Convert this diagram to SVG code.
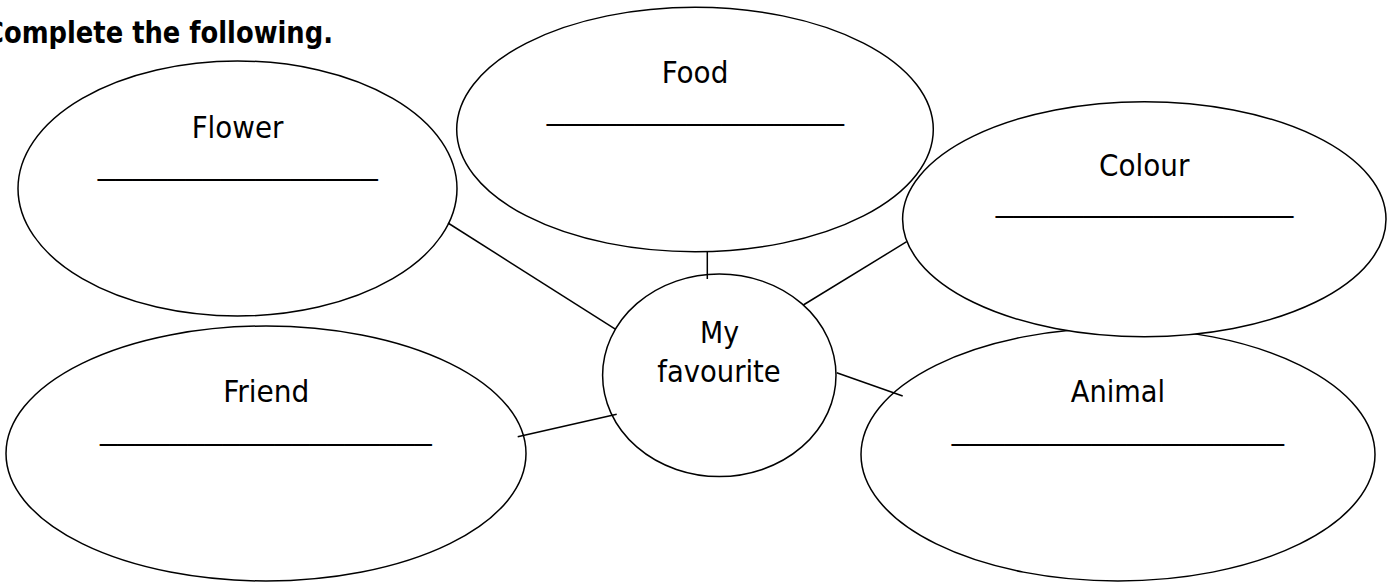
<svg xmlns="http://www.w3.org/2000/svg" width="1395" height="583" viewBox="0 0 1395 583">
<style>
  .node { fill: #ffffff; stroke: #000000; stroke-width: 1.5; }
  .conn line { stroke: #000000; stroke-width: 1.5; }
  .lbl { font-family: "DejaVu Sans", "Liberation Sans", sans-serif; font-stretch: condensed; font-size: 31px; fill: #000000; text-anchor: middle; }
  .blank { font-family: "DejaVu Sans", "Liberation Sans", sans-serif; font-size: 31px; fill: #000000; }
  .title { font-family: "DejaVu Sans", "Liberation Sans", sans-serif; font-weight: bold; font-size: 30px; fill: #000000; }
</style>
<rect x="0" y="0" width="1395" height="583" fill="#ffffff"/>
<text class="title" x="-15" y="43.3" textLength="348" lengthAdjust="spacingAndGlyphs">Complete the following.</text>

<g id="friend">
  <ellipse class="node" cx="266" cy="453.5" rx="260" ry="127.5"/>
  <text class="lbl" x="266.3" y="402.3" textLength="86" lengthAdjust="spacingAndGlyphs">Friend</text>
  <text class="blank" x="100" y="439" textLength="331.7" lengthAdjust="spacingAndGlyphs">___________________</text>
</g>
<g id="flower">
  <ellipse class="node" cx="237.5" cy="188.5" rx="219.5" ry="127.5"/>
  <text class="lbl" x="237.5" y="137.7" textLength="91.7" lengthAdjust="spacingAndGlyphs">Flower</text>
  <text class="blank" x="97.7" y="174" textLength="280" lengthAdjust="spacingAndGlyphs">________________</text>
</g>
<g id="food">
  <ellipse class="node" cx="695" cy="129.5" rx="238.3" ry="122.2"/>
  <text class="lbl" x="695" y="83.3" textLength="66.7" lengthAdjust="spacingAndGlyphs">Food</text>
  <text class="blank" x="546.7" y="119" textLength="297.3" lengthAdjust="spacingAndGlyphs">_________________</text>
</g>
<g id="animal">
  <ellipse class="node" cx="1118" cy="454.5" rx="257" ry="126.5"/>
  <text class="lbl" x="1118" y="402.3" textLength="94.3" lengthAdjust="spacingAndGlyphs">Animal</text>
  <text class="blank" x="951.7" y="439" textLength="332.3" lengthAdjust="spacingAndGlyphs">___________________</text>
</g>
<g id="colour">
  <ellipse class="node" cx="1144.3" cy="219.2" rx="241.7" ry="117.5"/>
  <text class="lbl" x="1144.2" y="176" textLength="90.3" lengthAdjust="spacingAndGlyphs">Colour</text>
  <text class="blank" x="995.7" y="210.7" textLength="297.6" lengthAdjust="spacingAndGlyphs">_________________</text>
</g>
<g id="favourite">
  <ellipse class="node" cx="719.3" cy="375.3" rx="116.7" ry="101.3"/>
  <text class="lbl" x="719.5" y="343.3" textLength="39" lengthAdjust="spacingAndGlyphs">My</text>
  <text class="lbl" x="719" y="381.7" textLength="123.4" lengthAdjust="spacingAndGlyphs">favourite</text>
</g>

<g id="connectors" class="conn">
  <line x1="448" y1="223" x2="615.7" y2="329.3"/>
  <line x1="707.3" y1="251.7" x2="707.3" y2="279"/>
  <line x1="803.3" y1="305" x2="906.7" y2="241.7"/>
  <line x1="836.7" y1="372.7" x2="902.7" y2="396"/>
  <line x1="517.7" y1="436.7" x2="616.7" y2="414.3"/>
</g>
</svg>
